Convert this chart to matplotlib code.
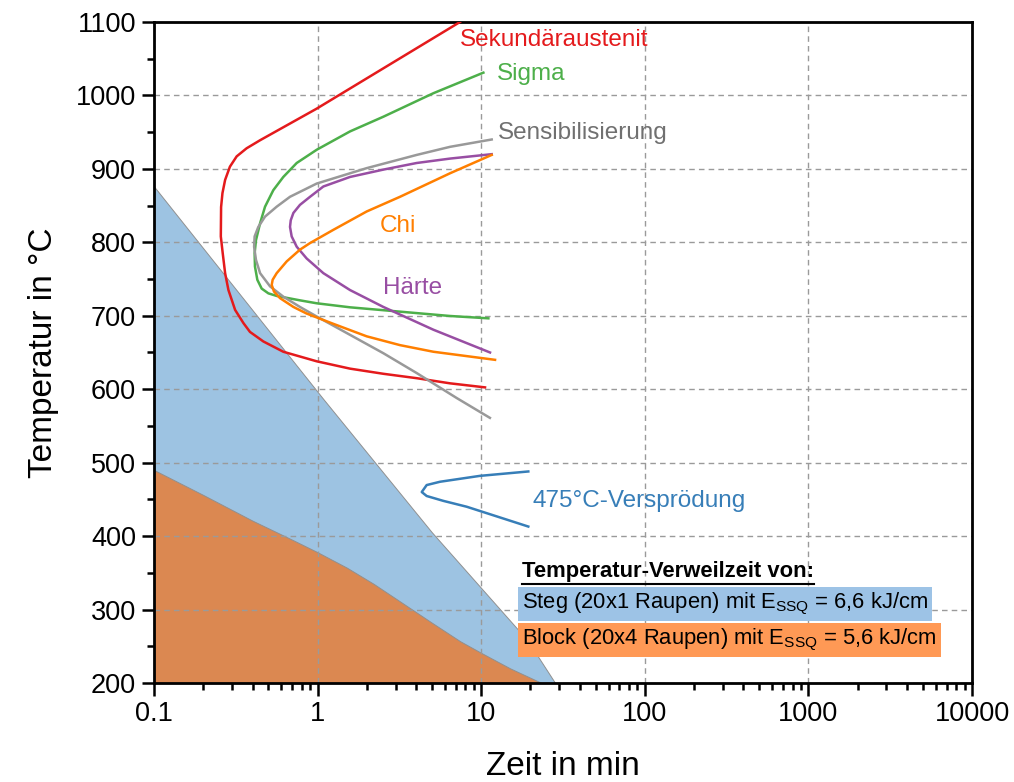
import matplotlib
matplotlib.use('Agg')
import matplotlib.pyplot as plt
from matplotlib.ticker import FixedLocator, MultipleLocator, LogLocator, NullFormatter
from matplotlib.lines import Line2D

plt.rcParams['font.family'] = ['Liberation Sans', 'DejaVu Sans']
plt.rcParams['mathtext.fontset'] = 'custom'
plt.rcParams['mathtext.rm'] = 'Liberation Sans'
plt.rcParams['mathtext.it'] = 'Liberation Sans:italic'

# Temperature-dwell regions (filled areas)
steg_x = [0.1, 1.08, 5.0, 19.2, 28.3]
steg_T = [876, 587, 405, 258, 200]
block_x = [0.1, 0.2, 0.4, 0.7, 1.0, 1.51, 2.2, 3.0, 5.0, 7.42, 10.0, 15.0, 23.4]
block_T = [490, 456, 421, 395, 378, 357, 335, 315, 282, 257, 241, 220, 200]

# Precipitation curves (time in min, temperature in degC)
sek_x = [7.42, 0.987, 0.445, 0.368, 0.320, 0.291, 0.272, 0.262, 0.257, 0.256, 0.263, 0.272,
         0.285, 0.313, 0.352, 0.386, 0.466, 0.617, 0.987, 1.578, 2.522, 4.033, 6.447, 10.55]
sek_T = [1100, 982, 939, 928, 917, 903, 885, 867, 848, 808, 785, 758,
         735, 708, 690, 678, 665, 651, 638, 628, 621, 615, 608, 602.5]

sigma_x = [10.31, 5.10, 2.522, 1.578, 0.987, 0.745, 0.617, 0.536, 0.477, 0.445, 0.420, 0.412,
           0.414, 0.428, 0.455, 0.500, 0.562, 0.78, 0.987, 1.578, 3.19, 6.447, 11.06]
sigma_T = [1031, 1003, 971, 951, 926, 908, 889, 871, 848.5, 826, 803, 785,
           767, 749, 737, 730.5, 727, 721, 717, 711.5, 705.6, 699.7, 696.5]

sens_x = [11.59, 6.447, 4.033, 1.995, 0.987, 0.678, 0.562, 0.477, 0.434, 0.412, 0.409, 0.420,
          0.445, 0.512, 0.617, 0.78, 0.987, 1.578, 2.522, 4.033, 7.08, 11.3]
sens_T = [940, 930, 919, 901, 880, 862, 848.5, 835, 821, 808, 794, 776,
          758, 740, 726, 712, 699, 674, 649, 622, 588, 561]

haerte_x = [11.59, 6.447, 4.033, 2.522, 1.578, 1.084, 0.899, 0.78, 0.711, 0.685, 0.678, 0.694,
            0.745, 0.857, 1.084, 1.578, 2.522, 5.10, 11.32]
haerte_T = [920, 914, 908, 899, 889, 876, 862, 851, 840, 830, 821, 808,
            794, 778, 758, 735, 712, 681, 650]

chi_x = [11.59, 6.447, 3.19, 1.995, 1.248, 0.899, 0.78, 0.647, 0.562, 0.531, 0.524, 0.541,
         0.589, 0.711, 0.857, 1.248, 1.995, 3.19, 5.10, 12.15]
chi_T = [919, 894, 862, 842, 817, 799, 790, 774, 758, 749, 742, 733,
         724, 712, 703, 689, 672, 660, 651, 640]

v475_x = [19.4, 9.8, 5.6, 4.64, 4.33, 4.64, 5.86, 8.15, 19.4]
v475_T = [488, 482, 474, 469.5, 460, 454.6, 448, 440, 413]

x_ticks = [0.1, 1, 10, 100, 1000, 10000]
x_tick_labels = ['0.1', '1', '10', '100', '1000', '10000']

fig = plt.figure(figsize=(10.14, 7.82), dpi=100)
ax = fig.add_axes([0.1519, 0.1266, 0.8067, 0.8453])

# Filled regions below grid
ax.fill_between(steg_x, steg_T, 200, facecolor='#9DC3E2', edgecolor='#909090', linewidth=0.7, zorder=0.5)
ax.fill_between(block_x, block_T, 200, facecolor='#DB8851', edgecolor='#909090', linewidth=0.7, zorder=0.6)

# Curves
curves = [
    (sek_x, sek_T, '#E41A1C'),
    (sigma_x, sigma_T, '#4DAF4A'),
    (sens_x, sens_T, '#999999'),
    (haerte_x, haerte_T, '#984EA3'),
    (chi_x, chi_T, '#FF7F00'),
    (v475_x, v475_T, '#377EB8'),
]
for cx, cy, col in curves:
    ax.plot(cx, cy, color=col, linewidth=1.8, zorder=3, solid_joinstyle='round')

# Curve labels
lab_fs = 17.5
ax.text(7.4, 1075, 'Sekundäraustenit', color='#E41A1C', fontsize=lab_fs, ha='left', va='center')
ax.text(12.5, 1029, 'Sigma', color='#4DAF4A', fontsize=lab_fs, ha='left', va='center')
ax.text(12.6, 949, 'Sensibilisierung', color='#707070', fontsize=lab_fs, ha='left', va='center')
ax.text(2.41, 822, 'Chi', color='#FF7F00', fontsize=lab_fs, ha='left', va='center')
ax.text(2.51, 738, 'Härte', color='#984EA3', fontsize=lab_fs, ha='left', va='center')
ax.text(20.7, 448, '475°C-Versprödung', color='#377EB8', fontsize=lab_fs, ha='left', va='center')

# Axes setup
ax.set_xscale('log')
ax.set_xlim(0.1, 10000)
ax.set_ylim(200, 1100)
ax.xaxis.set_major_locator(FixedLocator(x_ticks))
ax.set_xticklabels(x_tick_labels)
ax.xaxis.set_minor_locator(LogLocator(base=10, subs=range(2, 10), numticks=20))
ax.xaxis.set_minor_formatter(NullFormatter())
ax.yaxis.set_major_locator(MultipleLocator(100))
ax.yaxis.set_minor_locator(MultipleLocator(50))

ax.grid(True, which='major', color='#9a9a9a', linestyle=(0, (4, 3)), linewidth=1.0)
for sp in ax.spines.values():
    sp.set_linewidth(2)
ax.tick_params(which='major', direction='out', length=9, width=1.8, labelsize=19.5, pad=4)
ax.tick_params(which='minor', direction='out', length=5, width=1.8)
ax.tick_params(top=False, right=False, which='both')

ax.set_xlabel('Zeit in min', fontsize=24, labelpad=17)
ax.set_ylabel('Temperatur in °C', fontsize=24, labelpad=12)

# Legend block
leg_fs = 15.8
title = ax.text(0.45, 0.168, 'Temperatur-Verweilzeit von:', transform=ax.transAxes,
                fontsize=leg_fs, fontweight='bold', ha='left', va='center', zorder=5)
ax.text(0.45, 0.120, 'Steg (20x1 Raupen) mit E$_\\mathrm{SSQ}$ = 6,6 kJ/cm', transform=ax.transAxes,
        fontsize=leg_fs, ha='left', va='center', zorder=5,
        bbox=dict(boxstyle='square,pad=0.18', facecolor='#9DC3E6', edgecolor='none'))
ax.text(0.45, 0.0658, 'Block (20x4 Raupen) mit E$_\\mathrm{SSQ}$ = 5,6 kJ/cm', transform=ax.transAxes,
        fontsize=leg_fs, ha='left', va='center', zorder=5,
        bbox=dict(boxstyle='square,pad=0.18', facecolor='#FF9955', edgecolor='none'))

# Underline the legend title
fig.canvas.draw()
bb = title.get_window_extent().transformed(ax.transAxes.inverted())
ax.add_line(Line2D([bb.x0, bb.x1], [bb.y0 - 0.002, bb.y0 - 0.002], transform=ax.transAxes,
                   color='black', linewidth=1.5, zorder=5))

fig.savefig('out.png', dpi=100)
